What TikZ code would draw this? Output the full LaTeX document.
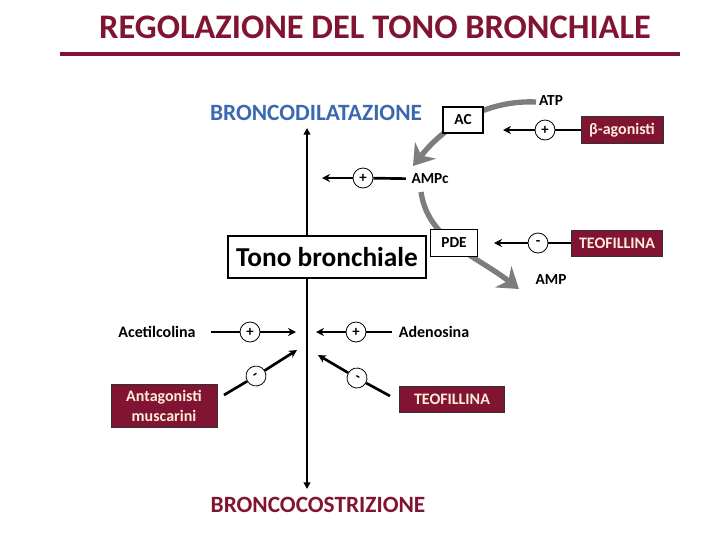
\documentclass[tikz,border=0pt]{standalone}
\usepackage{fontspec}
\setmainfont{Carlito}
\usetikzlibrary{arrows.meta}
\definecolor{dred}{RGB}{128,20,50}
\definecolor{dblue}{RGB}{59,104,176}
\definecolor{cream}{RGB}{252,236,214}
\definecolor{garrow}{RGB}{125,125,125}
\begin{document}
\begin{tikzpicture}[x=0.75pt,y=-0.75pt,
  lab/.style={font=\fontsize{11.5}{13}\selectfont\bfseries, inner sep=1pt},
  wbox/.style={draw, line width=0.8pt, fill=white, inner sep=0pt, font=\fontsize{11.5}{13}\selectfont\bfseries},
  rbox/.style={draw=black!80, line width=0.6pt, fill=dred, text=cream, inner sep=0pt, align=center, font=\fontsize{12}{15}\selectfont\bfseries},
  sig/.style={circle, draw, line width=0.6pt, fill=white, minimum size=15pt, inner sep=0pt, font=\fontsize{11}{11}\selectfont\bfseries},
  conn/.style={line width=2pt},
  arr/.style={conn, -{Stealth[length=6pt,width=6pt]}},
  garr/.style={line width=4pt, draw=garrow, -{Stealth[length=15pt,width=20pt,inset=5pt]}},
  vax/.style={line width=2.2pt, {Triangle[length=5pt,width=5pt]}-{Triangle[length=5pt,width=5pt]}}
]
\useasboundingbox (0,0) rectangle (720,540);
% title
\node[text=dred, font=\fontsize{25.8}{30}\selectfont\bfseries] (title) at (375,27) {REGOLAZIONE DEL TONO BRONCHIALE};
\coordinate (tl1) at (60,54);
\coordinate (tl2) at (680,54);
\draw[dred, line width=3pt] (tl1) -- (tl2);

% main axis
\node[text=dblue, font=\fontsize{17.5}{20}\selectfont\bfseries] (dil) at (316,113) {BRONCODILATAZIONE};
\node[text=dred, font=\fontsize{17.5}{20}\selectfont\bfseries] (cos) at (318,505) {BRONCOCOSTRIZIONE};
\coordinate (vtop) at (307,128);
\coordinate (vbot) at (307,489);
\draw[vax] (vtop) -- (vbot);

% gray enzymatic arrows
\node[lab] (atp) at (551,101) {ATP};
\node[lab] (ampc) at (430,179) {AMPc};
\node[lab] (amp) at (551,280) {AMP};
\coordinate (g1s) at (536,102);
\coordinate (g1e) at (413,166);
\coordinate (g2s) at (421,192);
\coordinate (g2e) at (519,289);
\draw[garr] (g1s) .. controls (490,100) and (448,122) .. (g1e);
\draw[garr] (g2s) .. controls (428,240) and (475,255) .. (g2e);

% boxes
\node[wbox, minimum width=30pt, minimum height=19.5pt] (ac) at (463,120) {AC};
\node[wbox, minimum width=35pt, minimum height=20pt] (pde) at (454,243) {PDE};
\node[draw, line width=0.8pt, fill=white, inner sep=0pt, minimum width=148.5pt, minimum height=31.5pt, font=\fontsize{20.5}{24}\selectfont\bfseries] (tono) at (327,257) {Tono bronchiale};

\node[rbox, minimum width=61.5pt, minimum height=20pt] (beta) at (622,130) {β-agonisti};
\node[rbox, minimum width=68pt, minimum height=19.5pt] (teo1) at (617,243) {TEOFILLINA};
\node[rbox, minimum width=79.5pt, minimum height=32pt] (antag) at (164,406) {Antagonisti\\muscarini};
\node[rbox, minimum width=79pt, minimum height=19.5pt] (teo2) at (452,399) {TEOFILLINA};

\node[lab, font=\fontsize{12}{14}\selectfont\bfseries] (acet) at (157,332) {Acetilcolina};
\node[lab, font=\fontsize{12}{14}\selectfont\bfseries] (aden) at (434,332) {Adenosina};

% signal circles
\node[sig] (pb) at (545,130) {+};
\node[sig] (pa) at (363,178) {+};
\node[sig] (mt) at (538,243) {-};
\node[sig] (pc) at (250,332) {+};
\node[sig] (pd) at (356,332) {+};
\node[sig, rotate=32] (ml) at (256,376) {-};
\node[sig, rotate=-30] (mr) at (357,378) {-};

% end points
\coordinate (tb) at (503,130);
\coordinate (ta) at (322,178);
\coordinate (tt) at (494,243);
\coordinate (tc) at (296,332);
\coordinate (td) at (316,332);
\coordinate (sl) at (224,395);
\coordinate (tl) at (297,350);
\coordinate (sr) at (390,396);
\coordinate (tr) at (318,355);

\draw[conn] (beta) -- (pb);
\draw[arr] (pb) -- (tb);
\draw[conn, shorten <=3pt] (ampc) -- (pa);
\draw[arr] (pa) -- (ta);
\draw[conn] (teo1) -- (mt);
\draw[arr] (mt) -- (tt);
\draw[conn, shorten <=10pt] (acet) -- (pc);
\draw[arr] (pc) -- (tc);
\draw[conn, shorten <=4pt] (aden) -- (pd);
\draw[arr] (pd) -- (td);
\draw[conn] (sl) -- (ml);
\draw[arr] (ml) -- (tl);
\draw[conn] (sr) -- (mr);
\draw[arr] (mr) -- (tr);
\end{tikzpicture}
\end{document}
